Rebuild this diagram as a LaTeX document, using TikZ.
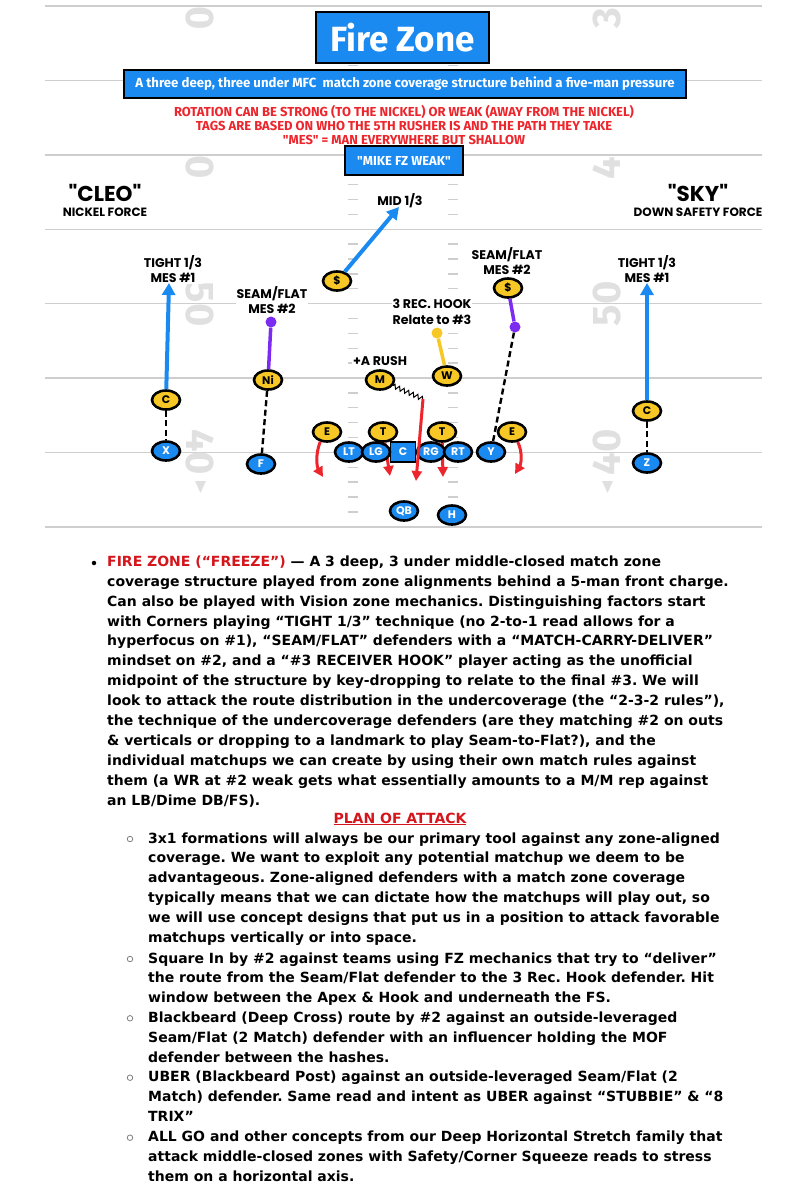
\documentclass[tikz,border=0pt]{standalone}
\usepackage{fontspec}
\setmainfont{DejaVu Sans}
\newfontfamily\headfont{Fira Sans}
\newfontfamily\labelfont{Poppins}
\usepackage{tikz}
\usetikzlibrary{shapes.geometric, arrows.meta, decorations.pathmorphing}
\usepackage{xcolor}
\frenchspacing

\definecolor{fzblue}{RGB}{27,138,240}
\definecolor{fzyellow}{RGB}{247,199,38}
\definecolor{fzpurple}{RGB}{124,44,240}
\definecolor{fzred}{RGB}{236,38,44}
\definecolor{textred}{RGB}{212,22,28}
\definecolor{yardgray}{RGB}{206,206,206}
\definecolor{numgray}{RGB}{224,224,224}

\tikzset{
  yardline/.style={draw=yardgray, line width=1.4pt},
  hashmark/.style={draw=yardgray, line width=1.4pt},
  yardnum/.style={text=numgray, inner sep=0pt, font=\headfont\bfseries\fontsize{40}{40}\selectfont},
  titlebox/.style={draw=black, line width=1.6pt, fill=fzblue, text=white, inner sep=0pt, font=\headfont\bfseries},
  player/.style={ellipse, draw=black, line width=2.6pt, minimum width=28pt, minimum height=19pt, inner sep=0pt, font=\labelfont\bfseries\fontsize{11}{11}\selectfont},
  defender/.style={player, fill=fzyellow},
  attacker/.style={player, fill=fzblue, text=white},
  snapbox/.style={rectangle, draw=black, line width=1.2pt, fill=fzblue, text=white, minimum width=25pt, minimum height=20pt, inner sep=0pt, font=\labelfont\bfseries\fontsize{11}{11}\selectfont},
  tag/.style={fill=white, inner sep=1pt, align=center, font=\labelfont\bfseries\fontsize{12.6}{15.5}\selectfont},
  callout/.style={inner sep=0pt, align=center, font=\labelfont\bfseries\fontsize{12}{15.5}\selectfont},
  deeproute/.style={draw=fzblue, line width=4pt, -{Triangle[length=12pt, width=13pt]}},
  seamroute/.style={draw=fzpurple, line width=3.5pt},
  hookroute/.style={draw=fzyellow, line width=3.5pt},
  routedot/.style={circle, inner sep=0pt, minimum size=11pt},
  rushline/.style={draw=fzred, line width=3pt, -{Triangle[length=10pt, width=10pt]}},
  blitzpath/.style={draw=black, line width=1pt, decorate, decoration={zigzag, segment length=5pt, amplitude=2.2pt}},
  alignline/.style={draw=black, line width=2.4pt, dash pattern=on 6pt off 3.5pt},
  bodytext/.style={align=left, inner sep=0pt, font=\bfseries\fontsize{14}{19.9}\selectfont},
  subbullet/.style={circle, draw=gray, line width=0.8pt, inner sep=0pt, minimum size=5.5pt},
}

\newcommand{\callword}[1]{{\fontsize{21.5}{21.5}\selectfont #1}}

\begin{document}
\begin{tikzpicture}[x=1pt, y=-1pt]

    % ==========================================
    % PAGE & FIELD
    % ==========================================

    \useasboundingbox (0,0) rectangle (807,1200);

    \def\yardgap{74.4}
    \def\hashgap{14.88}

    % yard lines
    \foreach \i in {0,...,7}
        \draw[yardline] (45, 6+\i*\yardgap) -- (762, 6+\i*\yardgap);

    % hash marks, four between each pair of yard lines
    \foreach \k in {1,...,34} {
        \pgfmathtruncatemacro\onyard{mod(\k,5)}
        \ifnum\onyard>0
            \draw[hashmark] (348, 6+\k*\hashgap) -- (358, 6+\k*\hashgap);
            \draw[hashmark] (448, 6+\k*\hashgap) -- (458, 6+\k*\hashgap);
        \fi
    }

    % field numbers (left read downwards, right read upwards)
    \node[yardnum, rotate=-90] (numL1) at (200,18)  {0};
    \node[yardnum, rotate=-90] (numL2) at (200,167) {0};
    \node[yardnum, rotate=-90] (numL3) at (200,304) {50};
    \node[yardnum, rotate=-90] (numL4) at (200,452) {40};
    \node[yardnum, rotate=90]  (numR1) at (607,18)  {3};
    \node[yardnum, rotate=90]  (numR2) at (607,168) {4};
    \node[yardnum, rotate=90]  (numR3) at (607,304) {50};
    \node[yardnum, rotate=90]  (numR4) at (607,452) {40};
    \fill[numgray] (195,481) -- (206,481) -- (200.5,493) -- cycle;
    \fill[numgray] (602,481) -- (613,481) -- (607.5,493) -- cycle;

    % ==========================================
    % HEADERS
    % ==========================================

    \node[titlebox, minimum width=173pt, minimum height=51pt, font=\headfont\bfseries\fontsize{35}{35}\selectfont] (title) at (402.5,37.5) {Fire Zone};
    \node[titlebox, minimum width=562pt, minimum height=28pt, font=\headfont\bfseries\fontsize{13.2}{13.2}\selectfont] (subtitle) at (405,84)
        {A three deep, three under MFC\ \ match zone coverage structure behind a five-man pressure};
    \node[fill=white, inner sep=2pt, align=center, text=fzred, font=\headfont\bfseries\fontsize{13}{14.2}\selectfont] (rules) at (404,125)
        {ROTATION CAN BE STRONG (TO THE NICKEL) OR WEAK (AWAY FROM THE NICKEL)\\
         TAGS ARE BASED ON WHO THE 5TH RUSHER IS AND THE PATH THEY TAKE\\
         "MES" = MAN EVERYWHERE BUT SHALLOW};
    \node[titlebox, minimum width=118pt, minimum height=29pt, font=\headfont\bfseries\fontsize{13}{13}\selectfont] (call) at (404,160.5) {"MIKE FZ WEAK"};

    \node[callout, anchor=north] (cleo) at (105,184) {\callword{"CLEO"}\\NICKEL FORCE};
    \node[callout, anchor=north] (sky)  at (698,184) {\callword{"SKY"}\\DOWN SAFETY FORCE};

    % ==========================================
    % ROUTE TAGS
    % ==========================================

    \node[tag] (tagCL)  at (173,269) {TIGHT 1/3\\MES \#1};
    \node[tag] (tagCR)  at (647,269) {TIGHT 1/3\\MES \#1};
    \node[tag] (tagNi)  at (272,300) {SEAM/FLAT\\MES \#2};
    \node[tag] (tagSR)  at (507,261) {SEAM/FLAT\\MES \#2};
    \node[tag] (tagMid) at (400,201) {MID 1/3};
    \node[tag] (tagW)   at (432,312) {3 REC. HOOK\\Relate to \#3};
    \node[tag] (tagM)   at (380,361) {+A RUSH};

    % ==========================================
    % DEFENSE
    % ==========================================

    \node[defender] (CL) at (166,400) {C};
    \node[defender] (Ni) at (268,380) {Ni};
    \node[defender] (SL) at (337,281) {\$};
    \node[defender] (M)  at (380,380) {M};
    \node[defender] (W)  at (447,376) {W};
    \node[defender] (SR) at (508,288) {\$};
    \node[defender] (CR) at (647,411) {C};
    \node[defender] (EL) at (327,432) {E};
    \node[defender] (TL) at (383,432) {T};
    \node[defender] (TR) at (442,432) {T};
    \node[defender] (ER) at (512,432) {E};

    % route ends
    \coordinate (CLtip) at (169,283);
    \coordinate (CRtip) at (647,283);
    \coordinate (SLtip) at (399,207);
    \coordinate (TLtip) at (390,476);
    \coordinate (TRtip) at (443,477);
    \coordinate (ELtip) at (323,477);
    \coordinate (ERtip) at (515,474);
    \coordinate (Mturn) at (423,399);
    \coordinate (Mtip)  at (416,481);

    \node[routedot, fill=fzpurple] (NiDot) at (271,322) {};
    \node[routedot, fill=fzpurple] (SRDot) at (515,327) {};
    \node[routedot, fill=fzyellow] (WDot)  at (437,333) {};

    % rush lanes of the tackles run under the line
    \draw[rushline] (TL) -- (TLtip);
    \draw[rushline] (TR) -- (TRtip);

    % ==========================================
    % OFFENSE
    % ==========================================

    \node[attacker] (X)  at (166,451) {X};
    \node[attacker] (F)  at (261,464) {F};
    \node[snapbox]  (Cn) at (403,452) {C};
    \node[attacker] (LT) at (349,452) {LT};
    \node[attacker] (LG) at (376,452) {LG};
    \node[attacker] (RG) at (431,452) {RG};
    \node[attacker] (RT) at (458,452) {RT};
    \node[attacker] (Y)  at (491,452) {Y};
    \node[attacker] (Z)  at (647,463) {Z};
    \node[attacker] (QB) at (404,511) {QB};
    \node[attacker] (H)  at (452,515) {H};

    % ==========================================
    % ASSIGNMENTS
    % ==========================================

    % deep thirds
    \draw[deeproute] (CL) -- (CLtip);
    \draw[deeproute] (CR) -- (CRtip);
    \draw[deeproute] (SL) -- (SLtip);

    % seam/flat and hook players
    \draw[seamroute] (Ni) -- (NiDot);
    \draw[seamroute] (SR) -- (SRDot);
    \draw[hookroute] (W) -- (WDot);

    % alignment keys
    \draw[alignline] (CL) -- (X);
    \draw[alignline] (Ni) -- (F);
    \draw[alignline] (SRDot) -- (Y);
    \draw[alignline] (CR) -- (Z);

    % five-man pressure
    \draw[blitzpath] (M) -- (Mturn);
    \draw[rushline] (Mturn) -- (Mtip);
    \draw[rushline] (EL.235) .. controls (315,455) and (317,467) .. (ELtip);
    \draw[rushline] (ER.300) .. controls (523,453) and (521,464) .. (ERtip);

    % ==========================================
    % WRITE-UP
    % ==========================================

    \node[circle, fill=black, inner sep=0pt, minimum size=4.5pt] (bullet) at (94,563) {};
    \node[bodytext, anchor=north west] (intro) at (107,555.5) {%
        {\color{textred}FIRE ZONE (“FREEZE”)} — A 3 deep, 3 under middle-closed match zone\\
        coverage structure played from zone alignments behind a 5-man front charge.\\
        Can also be played with Vision zone mechanics. Distinguishing factors start\\
        with Corners playing “TIGHT 1/3” technique (no 2-to-1 read allows for a\\
        hyperfocus on \#1), “SEAM/FLAT” defenders with a “MATCH-CARRY-DELIVER”\\
        mindset on \#2, and a “\#3 RECEIVER HOOK” player acting as the unofficial\\
        midpoint of the structure by key-dropping to relate to the final \#3. We will\\
        look to attack the route distribution in the undercoverage (the “2-3-2 rules”),\\
        the technique of the undercoverage defenders (are they matching \#2 on outs\\
        \& verticals or dropping to a landmark to play Seam-to-Flat?), and the\\
        individual matchups we can create by using their own match rules against\\
        them (a WR at \#2 weak gets what essentially amounts to a M/M rep against\\
        an LB/Dime DB/FS).};

    \node[bodytext, anchor=base, text=textred] (plan) at (400,823) {\underline{PLAN OF ATTACK}};

    \node[subbullet] (sb1) at (130,839) {};
    \node[subbullet] (sb2) at (130,959) {};
    \node[subbullet] (sb3) at (130,1018.3) {};
    \node[subbullet] (sb4) at (130,1077.7) {};
    \node[subbullet] (sb5) at (130,1137.7) {};

    \node[bodytext, anchor=north west] (idea1) at (148,832.2) {%
        3x1 formations will always be our primary tool against any zone-aligned\\
        coverage. We want to exploit any potential matchup we deem to be\\
        advantageous. Zone-aligned defenders with a match zone coverage\\
        typically means that we can dictate how the matchups will play out, so\\
        we will use concept designs that put us in a position to attack favorable\\
        matchups vertically or into space.};
    \node[bodytext, anchor=north west] (idea2) at (148,952.2) {%
        Square In by \#2 against teams using FZ mechanics that try to “deliver”\\
        the route from the Seam/Flat defender to the 3 Rec. Hook defender. Hit\\
        window between the Apex \& Hook and underneath the FS.};
    \node[bodytext, anchor=north west] (idea3) at (148,1011.5) {%
        Blackbeard (Deep Cross) route by \#2 against an outside-leveraged\\
        Seam/Flat (2 Match) defender with an influencer holding the MOF\\
        defender between the hashes.};
    \node[bodytext, anchor=north west] (idea4) at (148,1070.9) {%
        UBER (Blackbeard Post) against an outside-leveraged Seam/Flat (2\\
        Match) defender. Same read and intent as UBER against “STUBBIE” \& “8\\
        TRIX”};
    \node[bodytext, anchor=north west] (idea5) at (148,1130.9) {%
        ALL GO and other concepts from our Deep Horizontal Stretch family that\\
        attack middle-closed zones with Safety/Corner Squeeze reads to stress\\
        them on a horizontal axis.};

\end{tikzpicture}
\end{document}
